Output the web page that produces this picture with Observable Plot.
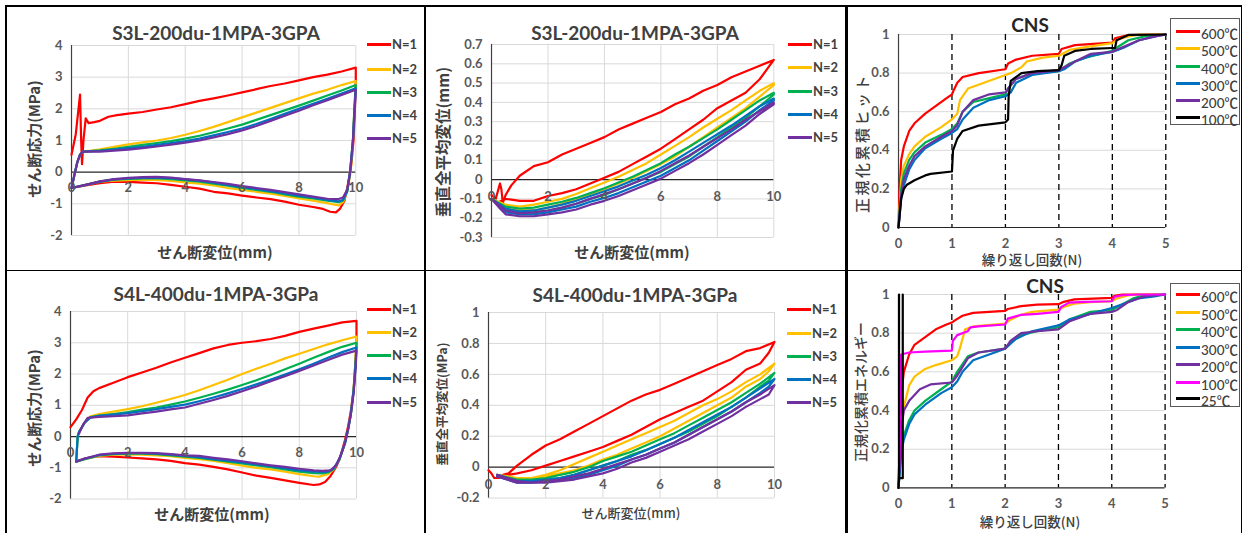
<!DOCTYPE html>
<html><head><meta charset="utf-8">
<script src="https://cdn.jsdelivr.net/npm/d3@7"></script>
<script src="https://cdn.jsdelivr.net/npm/@observablehq/plot@0.6"></script>
<style>
body{margin:0;background:#fff;}
#root{position:relative;width:1242px;height:533px;overflow:hidden;background:#fff;font-family:Lato,"Noto Sans CJK JP",sans-serif;color:#404040;}
.abs{position:absolute;white-space:nowrap;}
.c{transform:translate(-50%,-50%);}
.r{transform:translate(-50%,-50%) rotate(-90deg);}
.ln{position:absolute;background:#000;}
svg{overflow:visible;}
</style></head>
<body><div id="root"></div>
<script>
// ---------- categories / labels ----------
const namesN = ["N=1","N=2","N=3","N=4","N=5"];
const colorsN = ["#FF0000","#FFC000","#00B050","#0070C0","#7030A0"];
const namesT1 = ["600℃","500℃","400℃","300℃","200℃","100℃"];
const colorsT1 = ["#FF0000","#FFC000","#00B050","#0070C0","#7030A0","#000000"];
const namesT2 = ["600℃","500℃","400℃","300℃","200℃","100℃","25℃"];
const colorsT2 = ["#FF0000","#FFC000","#00B050","#0070C0","#7030A0","#FF00FF","#000000"];

// ---------- ticks ----------
const dispTicks = [0,2,4,6,8,10];
const p1YTicks = [-2,-1,0,1,2,3,4];
const p2YTicks = [-0.3,-0.2,-0.1,0,0.1,0.2,0.3,0.4,0.5,0.6,0.7];
const p4YTicks = [-2,-1,0,1,2,3,4];
const p5YTicks = [-0.2,0,0.2,0.4,0.6,0.8,1];
const cnsXTicks = [0,1,2,3,4,5];
const cnsYTicks = [0,0.2,0.4,0.6,0.8,1];
const cnsDash = [1,2,3,4,5];

// ---------- Panel 1: S3L-200du shear stress ----------
const p1_n1 = [[0,0.55],[0.15,1.2],[0.3,2.45],[0.34,1.0],[0.37,0.25],[0.42,1.0],[0.5,1.7],[0.6,1.55],[0.8,1.58],[1,1.62],[1.3,1.75],[1.6,1.8],[2,1.85],[2.5,1.9],[3,1.98],[3.5,2.05],[4,2.15],[4.5,2.25],[5,2.33],[5.5,2.42],[6,2.52],[6.5,2.62],[7,2.72],[7.5,2.8],[8,2.9],[8.5,3.0],[9,3.08],[9.5,3.18],[10,3.3],[10,2.9],[9.97,2.0],[9.92,1.0],[9.85,0.3],[9.8,0],[9.7,-0.5],[9.6,-0.9],[9.45,-1.15],[9.3,-1.27],[9.1,-1.25],[8.8,-1.15],[8.5,-1.1],[8,-1.03],[7.5,-0.93],[7,-0.85],[6.5,-0.8],[6,-0.74],[5.5,-0.67],[5,-0.62],[4.5,-0.52],[4,-0.46],[3.5,-0.4],[3,-0.35],[2.5,-0.33],[2,-0.31],[1.5,-0.3],[1,-0.35],[0.5,-0.42],[0,-0.5]];
const p1_n2 = [[0,-0.5],[0.1,-0.1],[0.2,0.3],[0.3,0.55],[0.4,0.65],[0.7,0.68],[1,0.72],[1.5,0.8],[2,0.88],[2.5,0.94],[3,1.0],[3.5,1.08],[4,1.18],[4.5,1.3],[5,1.43],[5.5,1.58],[6,1.73],[6.5,1.88],[7,2.03],[7.5,2.18],[8,2.33],[8.5,2.48],[9,2.6],[9.5,2.75],[10,2.88],[9.95,2.0],[9.9,1.0],[9.82,0],[9.7,-0.6],[9.55,-0.95],[9.4,-1.05],[9.2,-1.02],[9,-0.98],[8.5,-0.9],[8,-0.83],[7.5,-0.75],[7,-0.68],[6.5,-0.62],[6,-0.56],[5.5,-0.5],[5,-0.42],[4.5,-0.36],[4,-0.32],[3.5,-0.28],[3,-0.25],[2.5,-0.24],[2,-0.25],[1.5,-0.27],[1,-0.3],[0.5,-0.4],[0,-0.5]];
const p1_n3 = [[0,-0.5],[0.1,-0.1],[0.2,0.3],[0.3,0.55],[0.4,0.65],[1,0.69],[1.5,0.74],[2,0.8],[2.5,0.86],[3,0.92],[3.5,0.98],[4,1.06],[4.5,1.15],[5,1.26],[5.5,1.38],[6,1.5],[6.5,1.65],[7,1.8],[7.5,1.95],[8,2.1],[8.5,2.26],[9,2.42],[9.5,2.58],[10,2.75],[9.95,2.0],[9.9,1.0],[9.8,0],[9.7,-0.6],[9.55,-0.9],[9.4,-0.95],[9,-0.9],[8.5,-0.83],[8,-0.77],[7.5,-0.7],[7,-0.62],[6.5,-0.56],[6,-0.5],[5.5,-0.43],[5,-0.36],[4.5,-0.3],[4,-0.26],[3.5,-0.22],[3,-0.2],[2.5,-0.2],[2,-0.21],[1.5,-0.24],[1,-0.3],[0.5,-0.4],[0,-0.5]];
const p1_n4 = [[0,-0.5],[0.1,-0.1],[0.2,0.3],[0.3,0.55],[0.4,0.65],[1,0.67],[1.5,0.71],[2,0.76],[2.5,0.8],[3,0.86],[3.5,0.92],[4,0.98],[4.5,1.06],[5,1.16],[5.5,1.27],[6,1.38],[6.5,1.52],[7,1.68],[7.5,1.84],[8,2.0],[8.5,2.16],[9,2.32],[9.5,2.48],[10,2.65],[9.95,1.9],[9.9,1.0],[9.8,0],[9.7,-0.6],[9.55,-0.88],[9.4,-0.92],[9,-0.88],[8.5,-0.8],[8,-0.74],[7.5,-0.67],[7,-0.6],[6.5,-0.53],[6,-0.47],[5.5,-0.4],[5,-0.33],[4.5,-0.27],[4,-0.23],[3.5,-0.19],[3,-0.17],[2.5,-0.18],[2,-0.2],[1.5,-0.23],[1,-0.3],[0.5,-0.4],[0,-0.5]];
const p1_n5 = [[0,-0.5],[0.1,-0.1],[0.2,0.3],[0.3,0.55],[0.4,0.65],[1,0.65],[1.5,0.68],[2,0.71],[2.5,0.76],[3,0.81],[3.5,0.87],[4,0.93],[4.5,1.0],[5,1.1],[5.5,1.2],[6,1.32],[6.5,1.46],[7,1.62],[7.5,1.78],[8,1.94],[8.5,2.11],[9,2.27],[9.5,2.44],[10,2.6],[9.95,1.8],[9.9,1.0],[9.8,0],[9.7,-0.55],[9.55,-0.8],[9.4,-0.85],[9,-0.84],[8.5,-0.77],[8,-0.7],[7.5,-0.63],[7,-0.56],[6.5,-0.5],[6,-0.44],[5.5,-0.37],[5,-0.31],[4.5,-0.26],[4,-0.22],[3.5,-0.17],[3,-0.15],[2.5,-0.16],[2,-0.18],[1.5,-0.22],[1,-0.29],[0.5,-0.4],[0,-0.5]];

// ---------- Panel 2: S3L-200du vertical displacement ----------
const p2_n1 = [[0,-0.08],[0.15,-0.1],[0.3,-0.02],[0.35,-0.05],[0.4,-0.12],[0.5,-0.08],[0.7,-0.03],[1,0.02],[1.5,0.07],[2,0.09],[2.5,0.13],[3,0.16],[3.5,0.19],[4,0.22],[4.5,0.26],[5,0.29],[5.5,0.32],[6,0.35],[6.5,0.39],[7,0.42],[7.5,0.46],[8,0.49],[8.5,0.53],[9,0.56],[9.5,0.59],[10,0.62],[9.8,0.58],[9.5,0.52],[9,0.45],[8.5,0.41],[8,0.37],[7.5,0.31],[7,0.26],[6.5,0.21],[6,0.16],[5.5,0.12],[5,0.08],[4.5,0.04],[4,0.01],[3.5,-0.02],[3,-0.05],[2.5,-0.07],[2,-0.085],[1.5,-0.11],[1,-0.11],[0.5,-0.1],[0.2,-0.12],[0,-0.1]];
const p2_n2 = [[0,-0.1],[0.5,-0.15],[1,-0.16],[1.5,-0.16],[2,-0.145],[2.5,-0.125],[3,-0.1],[3.5,-0.075],[4,-0.05],[4.5,-0.02],[5,0.01],[5.5,0.045],[6,0.08],[6.5,0.12],[7,0.17],[7.5,0.22],[8,0.27],[8.5,0.32],[9,0.37],[9.5,0.43],[10,0.49],[10,0.5],[9.5,0.46],[9,0.41],[8.5,0.36],[8,0.315],[7.5,0.27],[7,0.22],[6.5,0.175],[6,0.13],[5.5,0.085],[5,0.05],[4.5,0.015],[4,-0.015],[3.5,-0.045],[3,-0.075],[2.5,-0.1],[2,-0.115],[1.5,-0.13],[1,-0.14],[0.5,-0.13],[0,-0.1]];
const p2_n3 = [[0,-0.1],[0.5,-0.16],[1,-0.17],[1.5,-0.17],[2,-0.16],[2.5,-0.145],[3,-0.125],[3.5,-0.1],[4,-0.08],[4.5,-0.05],[5,-0.02],[5.5,0.01],[6,0.04],[6.5,0.08],[7,0.12],[7.5,0.17],[8,0.22],[8.5,0.27],[9,0.32],[9.5,0.38],[10,0.44],[10,0.45],[9.5,0.41],[9,0.36],[8.5,0.31],[8,0.26],[7.5,0.215],[7,0.17],[6.5,0.13],[6,0.085],[5.5,0.05],[5,0.015],[4.5,-0.015],[4,-0.045],[3.5,-0.07],[3,-0.095],[2.5,-0.115],[2,-0.13],[1.5,-0.145],[1,-0.15],[0.5,-0.14],[0,-0.1]];
const p2_n4 = [[0,-0.1],[0.5,-0.17],[1,-0.18],[1.5,-0.18],[2,-0.17],[2.5,-0.155],[3,-0.14],[3.5,-0.115],[4,-0.095],[4.5,-0.07],[5,-0.04],[5.5,-0.01],[6,0.02],[6.5,0.06],[7,0.1],[7.5,0.15],[8,0.2],[8.5,0.25],[9,0.3],[9.5,0.36],[10,0.41],[10,0.42],[9.5,0.38],[9,0.33],[8.5,0.28],[8,0.235],[7.5,0.19],[7,0.145],[6.5,0.1],[6,0.06],[5.5,0.025],[5,-0.005],[4.5,-0.035],[4,-0.06],[3.5,-0.085],[3,-0.11],[2.5,-0.13],[2,-0.145],[1.5,-0.16],[1,-0.165],[0.5,-0.15],[0,-0.1]];
const p2_n5 = [[0,-0.1],[0.3,-0.15],[0.5,-0.18],[1,-0.19],[1.5,-0.19],[2,-0.18],[2.5,-0.17],[3,-0.155],[3.5,-0.13],[4,-0.11],[4.5,-0.085],[5,-0.055],[5.5,-0.025],[6,0.005],[6.5,0.045],[7,0.085],[7.5,0.13],[8,0.18],[8.5,0.23],[9,0.28],[9.5,0.34],[10,0.39],[10,0.4],[9.5,0.355],[9,0.31],[8.5,0.26],[8,0.215],[7.5,0.17],[7,0.125],[6.5,0.085],[6,0.045],[5.5,0.01],[5,-0.02],[4.5,-0.05],[4,-0.075],[3.5,-0.1],[3,-0.125],[2.5,-0.145],[2,-0.16],[1.5,-0.17],[1,-0.175],[0.5,-0.16],[0,-0.1]];

// ---------- Panel 3: CNS cumulative hits ----------
const p3_600 = [[0,0],[0.02,0.2],[0.05,0.35],[0.1,0.42],[0.2,0.5],[0.3,0.54],[0.5,0.59],[0.7,0.63],[0.9,0.67],[1.0,0.69],[1.03,0.71],[1.1,0.75],[1.2,0.78],[1.5,0.8],[2.0,0.82],[2.05,0.85],[2.2,0.87],[2.5,0.89],[3.0,0.9],[3.05,0.925],[3.3,0.945],[4.0,0.958],[4.05,0.98],[4.3,0.997],[5,1]];
const p3_500 = [[0,0],[0.05,0.25],[0.1,0.32],[0.2,0.38],[0.3,0.42],[0.5,0.47],[0.8,0.52],[1.0,0.56],[1.1,0.59],[1.15,0.66],[1.3,0.72],[1.6,0.75],[2.0,0.79],[2.1,0.8],[2.3,0.83],[2.4,0.86],[2.7,0.88],[3.0,0.89],[3.2,0.92],[3.5,0.935],[4.0,0.955],[4.1,0.975],[4.3,0.99],[4.5,1],[5,1]];
const p3_400 = [[0,0],[0.05,0.2],[0.1,0.28],[0.2,0.35],[0.3,0.39],[0.5,0.44],[0.8,0.48],[1.0,0.51],[1.1,0.54],[1.2,0.6],[1.4,0.65],[1.7,0.67],[2.0,0.69],[2.05,0.72],[2.2,0.77],[2.5,0.8],[3.0,0.81],[3.05,0.82],[3.2,0.85],[3.5,0.88],[4.0,0.915],[4.1,0.935],[4.3,0.97],[4.6,0.99],[5,1]];
const p3_300 = [[0,0],[0.05,0.15],[0.1,0.22],[0.2,0.3],[0.3,0.35],[0.5,0.41],[0.8,0.46],[1.0,0.49],[1.1,0.51],[1.2,0.56],[1.4,0.62],[1.7,0.66],[2.0,0.68],[2.1,0.7],[2.2,0.75],[2.5,0.79],[3.0,0.81],[3.1,0.82],[3.3,0.86],[3.6,0.89],[4.0,0.91],[4.2,0.93],[4.5,0.97],[4.8,0.99],[5,1]];
const p3_200 = [[0,0],[0.05,0.17],[0.1,0.25],[0.2,0.32],[0.3,0.37],[0.5,0.42],[0.8,0.47],[1.0,0.5],[1.1,0.53],[1.2,0.6],[1.4,0.66],[1.7,0.69],[2.0,0.7],[2.05,0.72],[2.2,0.77],[2.5,0.8],[3.0,0.815],[3.1,0.83],[3.3,0.86],[3.6,0.9],[4.0,0.91],[4.2,0.935],[4.5,0.97],[4.8,0.99],[5,1]];
const p3_100 = [[0,0],[0.05,0.15],[0.1,0.2],[0.15,0.22],[0.3,0.245],[0.5,0.27],[0.6,0.278],[1.0,0.29],[1.02,0.4],[1.1,0.46],[1.2,0.5],[1.5,0.528],[2.0,0.545],[2.05,0.56],[2.06,0.68],[2.1,0.76],[2.3,0.8],[2.6,0.81],[3.0,0.815],[3.05,0.84],[3.1,0.89],[3.3,0.915],[3.6,0.925],[4.0,0.93],[4.05,0.93],[4.08,0.97],[4.3,0.998],[5,1]];

// ---------- Panel 4: S4L-400du shear stress ----------
const p4_n1 = [[0,0.3],[0.2,0.55],[0.4,0.85],[0.6,1.25],[0.8,1.45],[1,1.55],[1.5,1.72],[2,1.9],[2.5,2.05],[3,2.2],[3.5,2.37],[4,2.52],[4.5,2.67],[5,2.82],[5.5,2.93],[6,3.0],[6.5,3.05],[7,3.12],[7.5,3.22],[8,3.35],[8.5,3.45],[9,3.55],[9.5,3.65],[10,3.7],[10,3.0],[9.95,2.2],[9.9,1.5],[9.8,0.8],[9.7,0.3],[9.6,-0.1],[9.45,-0.6],[9.3,-0.95],[9.1,-1.25],[8.9,-1.45],[8.7,-1.53],[8.5,-1.55],[8,-1.48],[7.5,-1.4],[7,-1.32],[6.5,-1.25],[6,-1.15],[5.5,-1.05],[5,-0.97],[4.5,-0.9],[4,-0.85],[3.5,-0.78],[3,-0.73],[2.5,-0.7],[2,-0.67],[1.5,-0.64],[1,-0.63],[0.5,-0.7],[0.2,-0.8]];
const p4_n2 = [[0.2,-0.8],[0.25,0],[0.3,0.15],[0.5,0.45],[0.7,0.65],[1,0.72],[1.5,0.8],[2,0.88],[2.5,0.97],[3,1.08],[3.5,1.2],[4,1.33],[4.5,1.48],[5,1.65],[5.5,1.82],[6,2.0],[6.5,2.17],[7,2.33],[7.5,2.5],[8,2.65],[8.5,2.8],[9,2.95],[9.5,3.08],[10,3.2],[9.97,2.5],[9.9,1.5],[9.8,0.7],[9.7,0.2],[9.6,-0.2],[9.4,-0.75],[9.2,-1.05],[9.0,-1.2],[8.7,-1.28],[8.5,-1.27],[8,-1.2],[7.5,-1.12],[7,-1.05],[6.5,-1.0],[6,-0.93],[5.5,-0.85],[5,-0.78],[4.5,-0.72],[4,-0.68],[3.5,-0.63],[3,-0.6],[2.5,-0.58],[2,-0.57],[1.5,-0.58],[1,-0.62],[0.5,-0.72],[0.2,-0.8]];
const p4_n3 = [[0.2,-0.8],[0.25,0],[0.3,0.15],[0.5,0.45],[0.7,0.62],[1,0.67],[1.5,0.72],[2,0.78],[2.5,0.86],[3,0.93],[3.5,1.02],[4,1.12],[4.5,1.24],[5,1.37],[5.5,1.5],[6,1.65],[6.5,1.8],[7,1.97],[7.5,2.15],[8,2.33],[8.5,2.52],[9,2.7],[9.5,2.87],[10,3.0],[9.97,2.4],[9.9,1.5],[9.8,0.7],[9.7,0.2],[9.6,-0.2],[9.4,-0.75],[9.2,-1.05],[9.0,-1.15],[8.8,-1.18],[8.5,-1.17],[8,-1.12],[7.5,-1.05],[7,-0.98],[6.5,-0.92],[6,-0.86],[5.5,-0.8],[5,-0.74],[4.5,-0.68],[4,-0.64],[3.5,-0.6],[3,-0.56],[2.5,-0.55],[2,-0.55],[1.5,-0.56],[1,-0.6],[0.5,-0.72],[0.2,-0.8]];
const p4_n4 = [[0.2,-0.8],[0.25,0],[0.3,0.15],[0.5,0.45],[0.7,0.61],[1,0.66],[1.5,0.7],[2,0.75],[2.5,0.81],[3,0.88],[3.5,0.95],[4,1.02],[4.5,1.13],[5,1.25],[5.5,1.38],[6,1.52],[6.5,1.67],[7,1.82],[7.5,1.98],[8,2.15],[8.5,2.33],[9,2.52],[9.5,2.7],[10,2.85],[9.97,2.3],[9.9,1.45],[9.8,0.7],[9.7,0.2],[9.6,-0.2],[9.4,-0.72],[9.2,-1.02],[9.0,-1.12],[8.8,-1.13],[8.5,-1.12],[8,-1.08],[7.5,-1.01],[7,-0.95],[6.5,-0.89],[6,-0.83],[5.5,-0.77],[5,-0.72],[4.5,-0.66],[4,-0.62],[3.5,-0.58],[3,-0.55],[2.5,-0.53],[2,-0.53],[1.5,-0.55],[1,-0.59],[0.5,-0.71],[0.2,-0.8]];
const p4_n5 = [[0.3,0.1],[0.45,0.4],[0.6,0.6],[1,0.63],[1.5,0.65],[2,0.68],[2.5,0.74],[3,0.8],[3.5,0.87],[4,0.93],[4.5,1.05],[5,1.17],[5.5,1.3],[6,1.45],[6.5,1.6],[7,1.77],[7.5,1.93],[8,2.1],[8.5,2.27],[9,2.45],[9.5,2.62],[10,2.75],[9.97,2.2],[9.9,1.4],[9.8,0.7],[9.7,0.2],[9.6,-0.2],[9.45,-0.6],[9.3,-0.9],[9.1,-1.08],[8.8,-1.1],[8.5,-1.08],[8,-1.03],[7.5,-0.97],[7,-0.92],[6.5,-0.86],[6,-0.79],[5.5,-0.73],[5,-0.68],[4.5,-0.62],[4,-0.6],[3.5,-0.56],[3,-0.53],[2.5,-0.52],[2,-0.52],[1.5,-0.54],[1,-0.58],[0.5,-0.7],[0.2,-0.8]];

// ---------- Panel 5: S4L-400du vertical displacement ----------
const p5_n1 = [[0,-0.02],[0.1,-0.04],[0.2,-0.07],[0.35,-0.07],[0.5,-0.05],[0.7,-0.04],[1,0.01],[1.5,0.08],[2,0.14],[2.5,0.18],[3,0.23],[3.5,0.28],[4,0.33],[4.5,0.38],[5,0.43],[5.5,0.47],[6,0.5],[6.5,0.54],[7,0.58],[7.5,0.62],[8,0.66],[8.5,0.7],[9,0.75],[9.5,0.77],[10,0.81],[9.8,0.74],[9.5,0.67],[9,0.63],[8.5,0.55],[8,0.49],[7.5,0.43],[7,0.39],[6.5,0.35],[6,0.31],[5.5,0.26],[5,0.21],[4.5,0.17],[4,0.13],[3.5,0.1],[3,0.07],[2.5,0.04],[2,0.01],[1.5,-0.02],[1,-0.04],[0.7,-0.05]];
const p5_n2 = [[0.3,-0.05],[0.7,-0.06],[1,-0.07],[1.5,-0.07],[2,-0.05],[2.5,-0.02],[3,0.02],[3.5,0.06],[4,0.1],[4.5,0.14],[5,0.18],[5.5,0.22],[6,0.26],[6.5,0.3],[7,0.35],[7.5,0.4],[8,0.44],[8.5,0.49],[9,0.55],[9.5,0.6],[10,0.67],[9.8,0.62],[9.5,0.57],[9,0.52],[8.5,0.45],[8,0.4],[7.5,0.35],[7,0.3],[6.5,0.25],[6,0.2],[5.5,0.16],[5,0.12],[4.5,0.08],[4,0.05],[3.5,0.01],[3,-0.02],[2.5,-0.04],[2,-0.06],[1.5,-0.08],[1,-0.08],[0.5,-0.07],[0.3,-0.05]];
const p5_n3 = [[0.3,-0.05],[1,-0.08],[1.5,-0.08],[2,-0.07],[2.5,-0.05],[3,-0.03],[3.5,0.0],[4,0.04],[4.5,0.07],[5,0.1],[5.5,0.14],[6,0.18],[6.5,0.22],[7,0.27],[7.5,0.32],[8,0.37],[8.5,0.42],[9,0.48],[9.5,0.54],[10,0.61],[9.8,0.56],[9.5,0.52],[9,0.45],[8.5,0.39],[8,0.33],[7.5,0.28],[7,0.23],[6.5,0.19],[6,0.15],[5.5,0.11],[5,0.08],[4.5,0.04],[4,0.01],[3.5,-0.02],[3,-0.05],[2.5,-0.07],[2,-0.08],[1.5,-0.09],[1,-0.09],[0.3,-0.06]];
const p5_n4 = [[0.3,-0.05],[1,-0.09],[1.5,-0.09],[2,-0.08],[2.5,-0.07],[3,-0.05],[3.5,-0.02],[4,0.01],[4.5,0.04],[5,0.07],[5.5,0.11],[6,0.15],[6.5,0.19],[7,0.24],[7.5,0.29],[8,0.34],[8.5,0.39],[9,0.45],[9.5,0.51],[10,0.57],[9.8,0.52],[9.5,0.48],[9,0.42],[8.5,0.36],[8,0.31],[7.5,0.26],[7,0.21],[6.5,0.16],[6,0.12],[5.5,0.08],[5,0.05],[4.5,0.01],[4,-0.02],[3.5,-0.05],[3,-0.07],[2.5,-0.08],[2,-0.09],[1.5,-0.1],[1,-0.1],[0.3,-0.06]];
const p5_n5 = [[0.3,-0.05],[1,-0.09],[1.5,-0.1],[2,-0.09],[2.5,-0.08],[3,-0.06],[3.5,-0.04],[4,-0.01],[4.5,0.02],[5,0.05],[5.5,0.08],[6,0.12],[6.5,0.16],[7,0.21],[7.5,0.26],[8,0.31],[8.5,0.36],[9,0.42],[9.5,0.47],[10,0.53],[9.8,0.47],[9.5,0.44],[9,0.39],[8.5,0.33],[8,0.28],[7.5,0.23],[7,0.18],[6.5,0.14],[6,0.1],[5.5,0.06],[5,0.03],[4.5,-0.01],[4,-0.04],[3.5,-0.06],[3,-0.08],[2.5,-0.09],[2,-0.1],[1.5,-0.1],[1,-0.1],[0.3,-0.06]];

// ---------- Panel 6: CNS cumulative energy ----------
const p6_600 = [[0,0],[0.03,0.3],[0.06,0.5],[0.1,0.6],[0.2,0.69],[0.3,0.74],[0.5,0.78],[0.7,0.82],[0.9,0.845],[1.0,0.855],[1.05,0.865],[1.2,0.89],[1.4,0.905],[2.0,0.915],[2.05,0.925],[2.3,0.94],[2.6,0.948],[3.0,0.95],[3.1,0.962],[3.3,0.975],[4.0,0.983],[4.05,0.993],[4.2,1],[5,1]];
const p6_500 = [[0,0],[0.05,0.3],[0.1,0.42],[0.2,0.53],[0.3,0.575],[0.5,0.615],[0.7,0.635],[1.0,0.66],[1.1,0.68],[1.15,0.72],[1.25,0.82],[1.4,0.835],[2.0,0.85],[2.1,0.87],[2.3,0.895],[2.5,0.91],[3.0,0.922],[3.1,0.935],[3.3,0.953],[3.6,0.96],[4.0,0.965],[4.1,0.98],[4.3,0.995],[4.5,1],[5,1]];
const p6_400 = [[0,0],[0.05,0.2],[0.1,0.27],[0.2,0.35],[0.3,0.4],[0.5,0.45],[0.8,0.51],[1.0,0.55],[1.1,0.6],[1.3,0.68],[1.5,0.7],[2.0,0.72],[2.1,0.75],[2.3,0.79],[2.6,0.81],[3.0,0.83],[3.2,0.87],[3.6,0.91],[4.0,0.92],[4.2,0.95],[4.4,0.98],[4.6,0.995],[5,1]];
const p6_300 = [[0,0],[0.05,0.18],[0.1,0.25],[0.2,0.33],[0.3,0.38],[0.5,0.43],[0.8,0.49],[1.0,0.52],[1.1,0.55],[1.2,0.6],[1.4,0.66],[1.7,0.69],[2.0,0.72],[2.2,0.77],[2.5,0.81],[3.0,0.84],[3.2,0.87],[3.6,0.9],[4.0,0.93],[4.2,0.95],[4.5,0.98],[4.8,0.99],[5,1]];
const p6_200 = [[0,0],[0.05,0.3],[0.1,0.4],[0.2,0.45],[0.4,0.51],[0.6,0.535],[1.0,0.545],[1.1,0.58],[1.3,0.67],[1.5,0.7],[2.0,0.72],[2.1,0.76],[2.3,0.8],[2.6,0.81],[3.0,0.82],[3.2,0.86],[3.6,0.9],[4.0,0.91],[4.1,0.92],[4.3,0.96],[4.6,0.99],[5,1]];
const p6_100 = [[0,0],[0.03,0.3],[0.05,0.69],[0.2,0.7],[0.5,0.705],[1.0,0.71],[1.02,0.76],[1.1,0.79],[1.3,0.81],[1.35,0.83],[1.5,0.835],[2.0,0.845],[2.05,0.875],[2.3,0.895],[2.6,0.9],[3.0,0.91],[3.05,0.935],[3.2,0.958],[3.5,0.962],[4.0,0.965],[4.05,0.988],[4.2,0.996],[4.5,1],[5,1]];
const p6_25 = [[0,0],[0.01,0.05],[0.01,1],[0.01,0.05],[0.08,0.05],[0.08,1]];

// ---------- drawing ----------
const root = document.getElementById("root");
function el(html){const d=document.createElement("div");d.innerHTML=html;const n=d.firstChild;root.appendChild(n);return n;}
function txt(x,y,s,css,rot){el(`<div class="abs ${rot?"r":"c"}" style="left:${x}px;top:${y}px;${css}">${s}</div>`);}

const fmt = d => String(d);

function panel(o){
  const padL=48,padR=14,padT=12,padB=30;
  const w=o.right-o.left, h=o.bottom-o.top;
  const rows=[];
  o.series.forEach((pts,i)=>pts.forEach(([x,y])=>rows.push({x,y,s:o.names[i]})));
  const marks=[];
  marks.push(Plot.gridY(o.yTicks.filter(t=>t!==0),{stroke:"#d9d9d9",strokeOpacity:1}));
  if(o.xGrid) marks.push(Plot.gridX(o.xTicks.filter(t=>t!==0),{stroke:"#d9d9d9",strokeOpacity:1}));
  if(o.dash) marks.push(Plot.ruleX(o.dash,{stroke:"#000",strokeWidth:1.3,strokeDasharray:"6,4"}));
  marks.push(Plot.ruleY([0],{stroke:"#262626",strokeWidth:1.2}));
  marks.push(Plot.ruleX([o.xDomain[0]],{stroke:"#404040",strokeWidth:1.2}));
  marks.push(Plot.line(rows,{x:"x",y:"y",z:"s",stroke:"s",strokeWidth:2.2,strokeLinejoin:"round"}));
  marks.push(Plot.axisY(o.yTicks,{tickSize:0,tickPadding:9,tickFormat:fmt,fontWeight:"bold",fontSize:13,label:null}));
  marks.push(Plot.text(o.xTicks,{x:d=>d,y:()=>0,dy:o.xdy,text:fmt,fontWeight:"bold",fontSize:13}));
  const svg=Plot.plot({
    width:w+padL+padR,height:h+padT+padB,
    marginLeft:padL,marginRight:padR,marginTop:padT,marginBottom:padB,
    x:{domain:o.xDomain,axis:null},
    y:{domain:o.yDomain,label:null},
    color:{domain:o.names,range:o.colors},
    style:{fontFamily:"Lato, 'Noto Sans CJK JP', sans-serif",color:"#595959",background:"transparent",overflow:"visible"},
    marks
  });
  const holder=document.createElement("div");
  holder.className="abs";
  holder.style.left=(o.left-padL)+"px";
  holder.style.top=(o.top-padT)+"px";
  holder.appendChild(svg);
  root.appendChild(holder);
}

function legendN(xLine,ys){
  namesN.forEach((n,i)=>{
    el(`<div class="ln" style="left:${xLine}px;top:${ys[i]-1.5}px;width:24px;height:3px;background:${colorsN[i]}"></div>`);
    el(`<div class="abs" style="left:${xLine+25}px;top:${ys[i]-9}px;font:bold 13px Lato;color:#404040;line-height:18px">${n}</div>`);
  });
}
function legendT(box,names,colors,ys){
  el(`<div class="abs" style="left:${box[0]}px;top:${box[1]}px;width:${box[2]-box[0]}px;height:${box[3]-box[1]}px;border:1px solid #595959;box-sizing:border-box;background:#fff"></div>`);
  names.forEach((n,i)=>{
    el(`<div class="ln" style="left:${box[0]+6}px;top:${ys[i]-1.5}px;width:24px;height:3px;background:${colors[i]}"></div>`);
    el(`<div class="abs" style="left:${box[0]+31}px;top:${ys[i]-6}px;font:500 13.5px Lato,'Noto Sans CJK JP';color:#404040;line-height:18px">${n}</div>`);
  });
}

const TITLE = "font:bold 19px Lato;color:#404040";
// Panel 1
panel({left:70.7,right:355,top:45,bottom:235,xDomain:[0,10],yDomain:[-2,4],xTicks:dispTicks,yTicks:p1YTicks,xGrid:true,xdy:16,
  series:[p1_n1,p1_n2,p1_n3,p1_n4,p1_n5],names:namesN,colors:colorsN});
txt(216,32,"S3L-200du-1MPA-3GPA",TITLE);
txt(33,139,"せん断応力(MPa)","font:bold 15px 'Noto Sans CJK JP';color:#404040",true);
txt(215,251,"せん断変位(mm)","font:bold 15px 'Noto Sans CJK JP';color:#404040");
legendN(367,[44,69,92,115,138]);

// Panel 2
panel({left:490.7,right:773,top:44,bottom:237,xDomain:[0,10],yDomain:[-0.3,0.7],xTicks:dispTicks,yTicks:p2YTicks,xGrid:true,xdy:17,
  series:[p2_n1,p2_n2,p2_n3,p2_n4,p2_n5],names:namesN,colors:colorsN});
txt(635,32,"S3L-200du-1MPA-3GPA",TITLE);
txt(442,142,"垂直全平均変位(mm)","font:bold 15.5px 'Noto Sans CJK JP';color:#404040",true);
txt(632,251,"せん断変位(mm)","font:bold 15px 'Noto Sans CJK JP';color:#404040");
legendN(788,[44,67,91,114,137]);

// Panel 3
panel({left:897.7,right:1165,top:34,bottom:227,xDomain:[0,5],yDomain:[0,1],xTicks:cnsXTicks,yTicks:cnsYTicks,dash:cnsDash,xdy:16,
  series:[p3_600,p3_500,p3_400,p3_300,p3_200,p3_100],names:namesT1,colors:colorsT1});
txt(1030,24,"CNS","font:bold 19px Lato;color:#262626");
txt(861,143,"正規化累積ヒット","font:500 15px 'Noto Sans CJK JP';letter-spacing:2.5px;color:#404040",true);
txt(1032,258.5,"繰り返し回数(N)","font:500 13.5px 'Noto Sans CJK JP';color:#404040;line-height:14px");
legendT([1170,18,1240,125],namesT1,colorsT1,[31,48,66,83,100,117]);

// Panel 4
panel({left:70,right:356,top:310.7,bottom:498.3,xDomain:[0,10],yDomain:[-2,4],xTicks:dispTicks,yTicks:p4YTicks,xGrid:true,xdy:16.5,
  series:[p4_n1,p4_n2,p4_n3,p4_n4,p4_n5],names:namesN,colors:colorsN});
txt(216,293,"S4L-400du-1MPA-3GPa",TITLE);
txt(33,408,"せん断応力(MPa)","font:bold 15px 'Noto Sans CJK JP';color:#404040",true);
txt(212,513,"せん断変位(mm)","font:bold 15px 'Noto Sans CJK JP';color:#404040");
legendN(367,[309,332,355,378,402]);

// Panel 5
panel({left:488,right:774,top:311.7,bottom:497.3,xDomain:[0,10],yDomain:[-0.2,1],xTicks:dispTicks,yTicks:p5YTicks,xGrid:true,xdy:17.5,
  series:[p5_n1,p5_n2,p5_n3,p5_n4,p5_n5],names:namesN,colors:colorsN});
txt(635,294,"S4L-400du-1MPA-3GPa",TITLE);
txt(441,404,"垂直全平均変位(MPa)","font:bold 12.5px 'Noto Sans CJK JP';color:#404040",true);
txt(631,512,"せん断変位(mm)","font:500 13px 'Noto Sans CJK JP';color:#404040");
legendN(787,[309,333,356,379,402]);

// Panel 6
panel({left:897.7,right:1164.3,top:294.3,bottom:487.7,xDomain:[0,5],yDomain:[0,1],xTicks:cnsXTicks,yTicks:cnsYTicks,dash:cnsDash,xdy:16,
  series:[p6_600,p6_500,p6_400,p6_300,p6_200,p6_100,p6_25],names:namesT2,colors:colorsT2});
txt(1045,285,"CNS","font:bold 19px Lato;color:#262626");
txt(860,392,"正規化累積エネルギー","font:500 14px 'Noto Sans CJK JP';color:#404040",true);
txt(1030,521,"繰り返し回数(N)","font:500 13.5px 'Noto Sans CJK JP';color:#404040;line-height:14px");
legendT([1170,283,1240,407],namesT2,colorsT2,[294,312,329,347,364,382,398]);

// panel frame lines
el(`<div class="ln" style="left:5px;top:5px;width:1237px;height:1.5px"></div>`);
el(`<div class="ln" style="left:5px;top:5px;width:1.5px;height:528px"></div>`);
el(`<div class="ln" style="left:1240.5px;top:5px;width:1.5px;height:528px"></div>`);
el(`<div class="ln" style="left:424px;top:5px;width:1.5px;height:528px"></div>`);
el(`<div class="ln" style="left:845px;top:5px;width:2.5px;height:528px"></div>`);
el(`<div class="ln" style="left:5px;top:269.5px;width:1237px;height:1.5px"></div>`);
</script></body></html>
